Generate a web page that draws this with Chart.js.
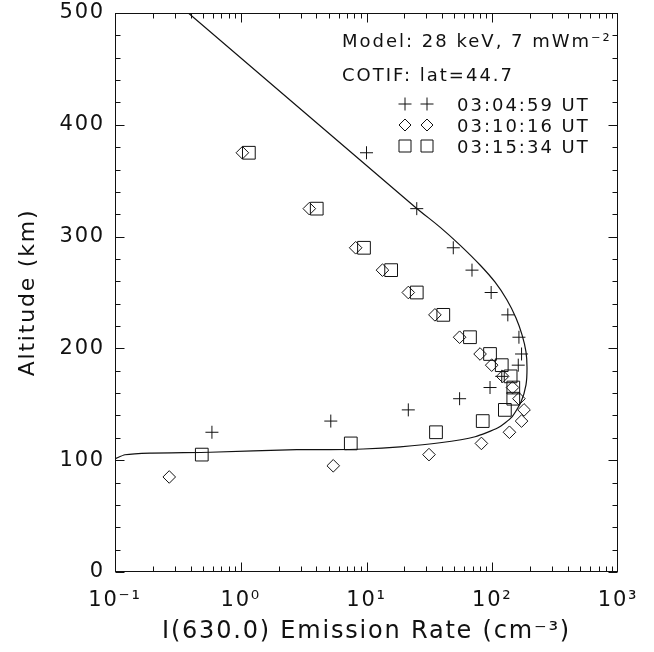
<!DOCTYPE html>
<html><head><meta charset="utf-8">
<script src="https://cdn.jsdelivr.net/npm/chart.js@4.4.0/dist/chart.umd.min.js"></script>
<style>html,body{margin:0;padding:0;background:#fff;}canvas{display:block;}</style>
</head><body>
<canvas id="c" width="654" height="652"></canvas>
<script>
// ---- tick labels ----
const xTickValues = [0.1, 1, 10, 100, 1000];
const xTickLabels = ['10\u207B\u00B9', '10\u2070', '10\u00B9', '10\u00B2', '10\u00B3'];
const yTickValues = [0, 100, 200, 300, 400, 500];

// ---- 03:04:59 UT (crosses) ----
const crossAlt  = [375, 325, 290, 270, 250, 230, 210, 195, 185, 175, 165, 155, 145, 135, 125];
const crossRate = [10.0, 25.1, 49, 69, 98, 133, 163, 171, 161, 119, 96, 55, 21.5, 5.2, 0.59];

// ---- 03:10:16 UT (diamonds) ----
const diamondAlt  = [375, 325, 290, 270, 250, 230, 210, 195, 185, 175, 165, 155, 145, 135, 125, 115, 105, 95, 85];
const diamondRate = [1.03, 3.51, 8.2, 13.4, 21.5, 35, 55, 80, 99, 121, 145, 163, 179, 171, 137, 82, 31.4, 5.44, 0.27];

// ---- 03:15:34 UT (squares) ----
const squareAlt  = [375, 325, 290, 270, 250, 230, 210, 195, 185, 175, 165, 155, 145, 135, 125, 115, 105];
const squareRate = [1.16, 4.02, 9.55, 15.7, 25.1, 40.8, 66.5, 96, 119, 140, 147, 147, 126, 84, 35.7, 7.5, 0.49];

// ---- Model: 28 keV, 7 mWm-2 ----
const modelRate = [0.1, 0.12, 0.19, 0.57, 2.79, 5.1, 9.4, 18.5, 38.4, 73, 111, 143.6, 169.5, 185.5, 189, 185.5, 172.6, 154.5, 131, 105, 80, 55.4, 38.4, 25.1, 0.383];
const modelAlt  = [101.3, 104.9, 106.4, 107.1, 109.4, 109.4, 110, 112, 115.6, 121, 129, 138.8, 152.2, 167.4, 182.6, 196.9, 212.1, 227.2, 243.3, 259.4, 274.6, 292.4, 308.5, 325.2, 500];

const seriesLabels = ['03:04:59 UT', '03:10:16 UT', '03:15:34 UT'];
const noteLines = ['Model: 28 keV, 7 mWm\u207B\u00B2', 'COTIF: lat=44.7'];

const pts = (xs, ys) => xs.map((x, i) => ({x: x, y: ys[i]}));
const INK = '#111';
const FONT = '"DejaVu Sans", sans-serif';

function drawSym(ctx, kind, x, y) {
  ctx.beginPath();
  if (kind === 'cross') {
    ctx.moveTo(x - 6.5, y); ctx.lineTo(x + 6.5, y);
    ctx.moveTo(x, y - 6.5); ctx.lineTo(x, y + 6.5);
  } else if (kind === 'diamond') {
    ctx.moveTo(x, y - 6); ctx.lineTo(x + 6, y); ctx.lineTo(x, y + 6); ctx.lineTo(x - 6, y); ctx.closePath();
  } else {
    ctx.rect(x - 6, y - 6, 12, 12);
  }
  ctx.stroke();
}

const frame = {
  id: 'frame',
  beforeDraw(chart) { chart.ctx.letterSpacing = '1.8px'; },
  afterDraw(chart) {
    const ctx = chart.ctx;
    const {left, right, top, bottom} = chart.chartArea;
    const xs = chart.scales.x, ys = chart.scales.y;
    ctx.save();
    ctx.strokeStyle = INK; ctx.lineWidth = 1;
    const L = Math.round(left) + 0.5, R = Math.round(right) - 0.5, T = Math.round(top) + 0.5, B = Math.round(bottom) - 0.5;
    ctx.strokeRect(L, T, R - L, B - T);
    ctx.beginPath();
    for (let v = 0; v <= 500; v += 20) {
      const py = Math.round(ys.getPixelForValue(v)) + 0.5;
      const len = v % 100 === 0 ? 9 : 5;
      ctx.moveTo(L, py); ctx.lineTo(L + len, py);
      ctx.moveTo(R, py); ctx.lineTo(R - len, py);
    }
    for (let d = -1; d <= 2; d++) {
      for (let m = 1; m <= 9; m++) {
        const v = m * Math.pow(10, d);
        const px = Math.round(xs.getPixelForValue(v)) + 0.5;
        const len = m === 1 ? 9 : 5;
        ctx.moveTo(px, B); ctx.lineTo(px, B - len);
        ctx.moveTo(px, T); ctx.lineTo(px, T + len);
      }
    }
    ctx.stroke();
    // annotation / legend
    ctx.fillStyle = INK;
    ctx.textAlign = 'left';
    ctx.textBaseline = 'alphabetic';
    ctx.letterSpacing = '2px';
    ctx.font = '18px ' + FONT;
    ctx.fillText(noteLines[0], 342, 47);
    ctx.fillText(noteLines[1], 342, 81);
    const kinds = ['cross', 'diamond', 'square'];
    const rowY = [104, 125, 146];
    for (let i = 0; i < 3; i++) {
      drawSym(ctx, kinds[i], 405, rowY[i]);
      drawSym(ctx, kinds[i], 427, rowY[i]);
      ctx.fillText(seriesLabels[i], 457, rowY[i] + 7);
    }
    ctx.restore();
  }
};

const markerCommon = {
  showLine: false,
  pointBackgroundColor: 'rgba(0,0,0,0)',
  pointBorderColor: INK,
  pointBorderWidth: 1,
  pointHoverRadius: 0
};

new Chart(document.getElementById('c'), {
  type: 'scatter',
  data: {
    datasets: [
      {label: 'Model', data: pts(modelRate, modelAlt), showLine: true, borderColor: INK, borderWidth: 1.2,
       pointRadius: 0, tension: 0.2, fill: false},
      Object.assign({label: seriesLabels[0], data: pts(crossRate, crossAlt), pointStyle: 'cross', pointRadius: 6.5}, markerCommon),
      Object.assign({label: seriesLabels[1], data: pts(diamondRate, diamondAlt), pointStyle: 'rectRot', pointRadius: 6.3}, markerCommon),
      Object.assign({label: seriesLabels[2], data: pts(squareRate, squareAlt), pointStyle: 'rect', pointRadius: 9}, markerCommon)
    ]
  },
  options: {
    responsive: false,
    animation: false,
    events: [],
    layout: {padding: {left: 0, top: 13, right: 36, bottom: 0}},
    plugins: {legend: {display: false}, tooltip: {enabled: false}},
    scales: {
      x: {
        type: 'logarithmic', min: 0.1, max: 1000, position: 'bottom',
        afterBuildTicks: s => { s.ticks = xTickValues.map(v => ({value: v, major: true})); },
        afterFit: s => { s.height = 80; s.paddingLeft = 0; s.paddingRight = 0; },
        grid: {display: false, drawTicks: false},
        border: {display: false},
        ticks: {autoSkip: false, maxRotation: 0, padding: 16, color: INK,
                font: {family: FONT, size: 21},
                callback: (v, i) => xTickLabels[i]},
        title: {display: true, text: 'I(630.0) Emission Rate (cm\u207B\u00B3)', color: INK,
                font: {family: FONT, size: 24}, padding: {top: 0, bottom: 6}}
      },
      y: {
        type: 'linear', min: 0, max: 500,
        afterBuildTicks: s => { s.ticks = yTickValues.map(v => ({value: v})); },
        afterFit: s => { s.width = 115; s.paddingTop = 0; s.paddingBottom = 0; },
        grid: {display: false, drawTicks: false},
        border: {display: false},
        ticks: {padding: 10, color: INK, font: {family: FONT, size: 21}},
        title: {display: true, text: 'Altitude (km)', color: INK,
                font: {family: FONT, size: 22}, padding: {top: 15, bottom: 0}}
      }
    }
  },
  plugins: [frame]
});
</script>
</body></html>
